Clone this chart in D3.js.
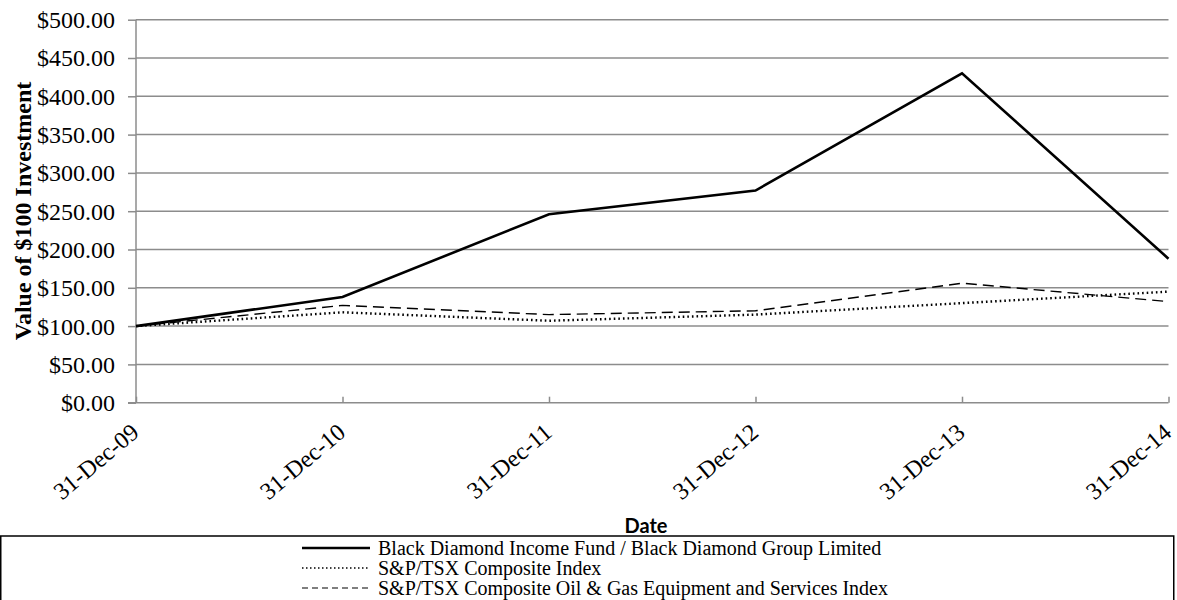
<!DOCTYPE html>
<html><head><meta charset="utf-8">
<script src="https://cdn.jsdelivr.net/npm/d3@7"></script>
<style>body{margin:0;background:#fff}svg{display:block}</style>
</head><body>
<script>
const categories = ["31-Dec-09","31-Dec-10","31-Dec-11","31-Dec-12","31-Dec-13","31-Dec-14"];
const blackDiamond = [100, 138, 246, 277, 430, 188];
const spTsx = [100, 118, 107, 115, 130, 145];
const oilGas = [100, 127, 115, 120, 156, 132];
const yTicks = [0,50,100,150,200,250,300,350,400,450,500];
const seriesNames = ["Black Diamond Income Fund / Black Diamond Group Limited","S&P/TSX Composite Index","S&P/TSX Composite Oil & Gas Equipment and Services Index"];

const W=1177,H=600;
const svg=d3.select("body").append("svg").attr("width",W).attr("height",H);
const x=d3.scalePoint().domain(categories).range([136,1168.5]);
const y=d3.scaleLinear().domain([0,500]).range([402.7,19.7]);
const grey="#8c8c8c";

// gridlines
svg.append("g").selectAll("line").data(yTicks.filter(d=>d>0)).join("line")
 .attr("x1",136).attr("x2",1168.5).attr("y1",d=>y(d)).attr("y2",d=>y(d))
 .attr("stroke",grey).attr("stroke-width",1.5);

// y axis
const ya=svg.append("g").attr("transform","translate(136,0)")
 .call(d3.axisLeft(y).tickValues(yTicks).tickSize(8).tickFormat(d=>"$"+d3.format(".2f")(d)));
ya.select(".domain").attr("stroke",grey).attr("stroke-width",1.5).attr("d","M0,"+y(500)+"V"+y(0));
ya.selectAll(".tick line").attr("stroke",grey).attr("stroke-width",1.5);
ya.selectAll("text").attr("font-family","Liberation Serif").attr("font-size",24).attr("fill","#000").attr("x",-21).attr("dy","0.33em");

// x axis
const xa=svg.append("g").attr("transform","translate(0,"+y(0)+")")
 .call(d3.axisBottom(x).tickSize(-6).tickSizeOuter(0));
xa.select(".domain").attr("stroke",grey).attr("stroke-width",1.5).attr("d","M128,0H1168.5");
xa.selectAll(".tick line").attr("stroke",grey).attr("stroke-width",1.5);
xa.selectAll("text").attr("font-family","Liberation Serif").attr("font-size",24).attr("fill","#000")
 .attr("text-anchor","end").attr("dy",0).attr("y",0)
 .attr("transform","translate(4,32) rotate(-40)");

// y title
svg.append("text").attr("transform","translate(31,211) rotate(-90)").attr("text-anchor","middle")
 .attr("font-family","Liberation Serif").attr("font-weight","bold").attr("font-size",24).text("Value of $100 Investment");
// x title
svg.append("text").attr("x",646).attr("y",533).attr("text-anchor","middle")
 .attr("font-family","Lato").attr("font-weight","bold").attr("font-size",20).text("Date");

const styles=[{w:2.6,dash:null},{w:2.4,dash:"1.6,3"},{w:1.4,dash:"11,6"}];
const data=[blackDiamond,spTsx,oilGas];
const line=d3.line().x((d,i)=>x(categories[i])).y(d=>y(d));
[2,1,0].forEach(k=>{
 svg.append("path").datum(data[k]).attr("d",line).attr("fill","none").attr("stroke","#000")
  .attr("stroke-width",styles[k].w).attr("stroke-dasharray",styles[k].dash).attr("stroke-linejoin","miter");
});

// legend
svg.append("rect").attr("x",0.75).attr("y",536).attr("width",1173).attr("height",70)
 .attr("fill","none").attr("stroke","#000").attr("stroke-width",1.5);
const lg=svg.append("g");
seriesNames.forEach((n,i)=>{
 const base=555+i*20;
 const yy=base-7;
 lg.append("line").attr("x1",302).attr("x2",370).attr("y1",yy).attr("y2",yy)
  .attr("stroke","#000").attr("stroke-width",[2.6,1.6,1.2][i]).attr("stroke-dasharray",["","1.5,2.5","6,4"][i]);
 lg.append("text").attr("x",378).attr("y",base).attr("font-family","Liberation Serif").attr("font-size",20).text(n);
});
</script>
</body></html>
